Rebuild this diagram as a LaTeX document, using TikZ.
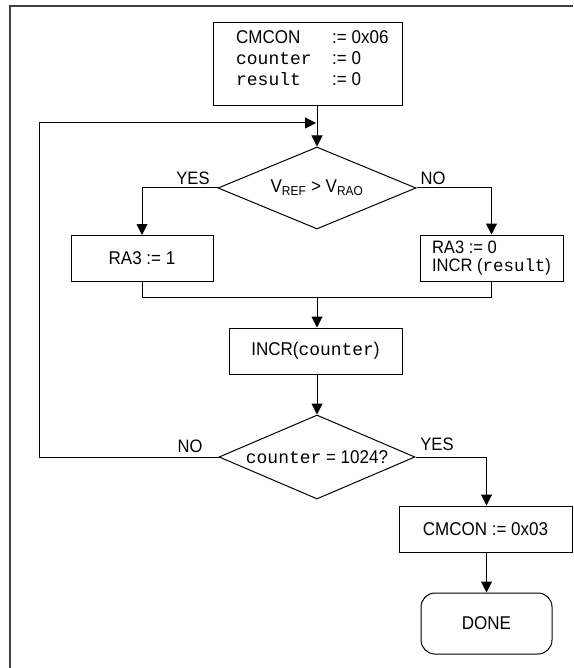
\documentclass[tikz,border=0pt]{standalone}
\usepackage{fontspec}
\setmainfont{Liberation Sans}[FakeStretch=0.92]
\setmonofont{Liberation Mono}[Scale=0.97]
\usetikzlibrary{shapes.geometric,arrows.meta}
\begin{document}
\begin{tikzpicture}[x=1pt,y=-1pt,
  every node/.style={font=\fontsize{18.5}{21}\selectfont, inner sep=0pt},
  flow/.style={draw=black, line width=1pt},
  procbox/.style={draw=black, line width=1pt, rectangle, minimum width=#1},
  decbox/.style={draw=black, line width=1pt, diamond, aspect=2.4},
  termbox/.style={draw=black, line width=1pt, rectangle, rounded corners=14pt},
  arr/.style={flow, -{Triangle[length=11pt,width=11pt]}},
  lbl/.style={font=\fontsize{18}{20}\selectfont},
  frameline/.style={draw=black!75, line width=1.6pt}
]
\useasboundingbox (0,0) rectangle (573,668);
\fill[white] (0,0) rectangle (573,668);
\draw[frameline] (10,668) -- (10,6) -- (573,6);

% init box
\node[procbox=189, minimum height=83] (init) at (307.5,64.5) {};
\node[anchor=base west] (initText) at (236,44) {\fontsize{18.5}{21}\selectfont\begin{tabular}[t]{@{}p{96pt}@{}l@{}}
CMCON & := 0x06\\
\texttt{counter} & := 0\\
\texttt{result} & := 0
\end{tabular}};

% decision 1
\node[decbox, minimum width=198, minimum height=82] (dec1) at (317,188) {V\textsubscript{REF} > V\textsubscript{RAO}};

% branch boxes
\node[procbox=142, minimum height=46] (box1) at (142,258.5) {RA3 := 1};
\node[procbox=143, minimum height=46, align=left, font=\fontsize{18}{18.5}\selectfont] (box2) at (491.5,258) {RA3 := 0\\INCR (\texttt{result})};

% incr counter
\node[procbox=173, minimum height=46] (incr) at (315.5,351) {INCR(\texttt{counter})};

% decision 2
\node[decbox, minimum width=196, minimum height=84] (dec2) at (317,457) {\texttt{counter} = 1024?};

% final
\node[procbox=173, minimum height=46] (fin) at (485.5,529) {CMCON := 0x03};
\node[termbox, minimum width=131, minimum height=61] (done) at (486.5,623.5) {DONE};

% coordinates
\coordinate (loopL) at (39,123);
\coordinate (loopJ) at (317,123);
\coordinate (merge) at (317,297);

% connectors
\draw[arr] (init.south -| dec1.north) -- (dec1.north);
\draw[arr, shorten >=1pt] (dec2.west) -| (loopL) -- (loopJ);
\draw[arr] (dec1.west) -| (box1.north);
\draw[arr] (dec1.east) -| (box2.north);
\draw[flow] (box1.south) |- (merge);
\draw[flow] (box2.south) |- (merge);
\draw[arr] (merge) -- (incr.north -| merge);
\draw[arr] (incr.south -| dec2.north) -- (dec2.north);
\draw[arr] (dec2.east) -| (fin.north -| done.north);
\draw[arr] (fin.south -| done.north) -- (done.north);

% labels
\node[lbl] (yes1) at (193,178) {YES};
\node[lbl] (no1) at (433,178) {NO};
\node[lbl] (no2) at (190,446) {NO};
\node[lbl] (yes2) at (437,444) {YES};
\end{tikzpicture}
\end{document}
